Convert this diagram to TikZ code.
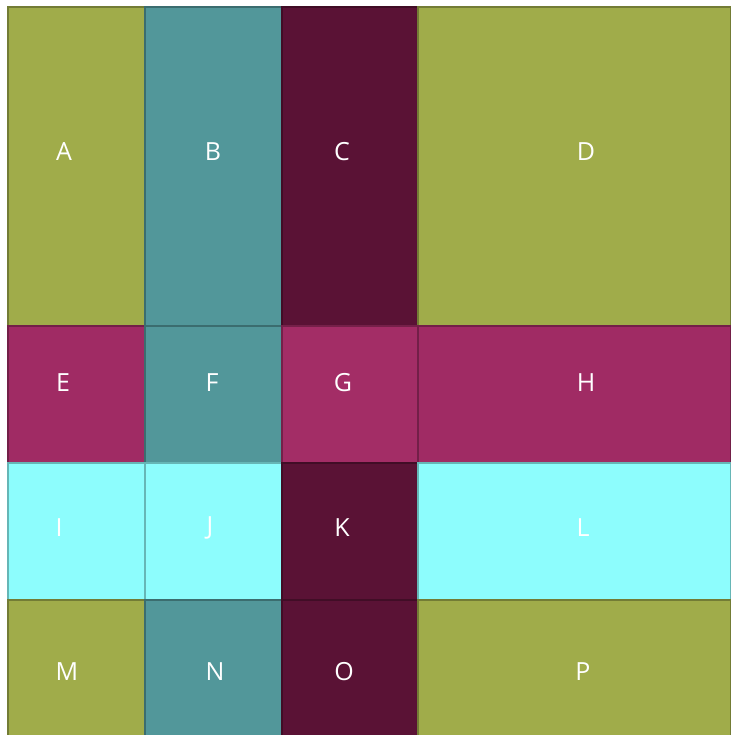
\documentclass[tikz,border=0pt]{standalone}
\usepackage{fontspec}
\setsansfont{Open Sans}
\usetikzlibrary{positioning}
\definecolor{colive}{HTML}{A0AC4A}
\definecolor{cteal}{HTML}{52979A}
\definecolor{cplum}{HTML}{5A1235}
\definecolor{cmagenta}{HTML}{A02B64}
\definecolor{cpink}{HTML}{A32D66}
\definecolor{ccyan}{HTML}{8DFDFD}
\tikzset{
  every picture/.style={font=\sffamily},
  cell/.style={fill=#1, draw=#1!72!black, line width=1.1pt},
  lbl/.style={text=white, font=\sffamily\fontsize{25}{30}\selectfont},
}
\begin{document}
\begin{tikzpicture}[x=1pt, y=-1pt]
  \useasboundingbox (0,0) rectangle (730,735);
  % cells, row by row
  \foreach \xa/\xb/\ya/\yb/\c in {
      8/145/7/326/colive, 145/282/7/326/cteal, 282/418/7/326/cplum, 418/731/7/326/colive,
      8/145/326/463/cmagenta, 145/282/326/463/cteal, 282/418/326/463/cpink, 418/731/326/463/cmagenta,
      8/145/463/600/ccyan, 145/282/463/600/ccyan, 282/418/463/600/cplum, 418/731/463/600/ccyan,
      8/145/600/736/colive, 145/282/600/736/cteal, 282/418/600/736/cplum, 418/731/600/736/colive}
    \draw[cell=\c] (\xa,\ya) rectangle (\xb,\yb);
  % labels
  \foreach \n/\x/\y in {A/64/152, B/213/152, C/342/152, D/586/152,
      E/63/383, F/212/383, G/343/383, H/586/383,
      I/59/528, J/210/528, K/342/528, L/583/528,
      M/67/672, N/215/672, O/344/672, P/583/672}
    \node[lbl] (\n) at (\x,\y) {\n};
\end{tikzpicture}
\end{document}
